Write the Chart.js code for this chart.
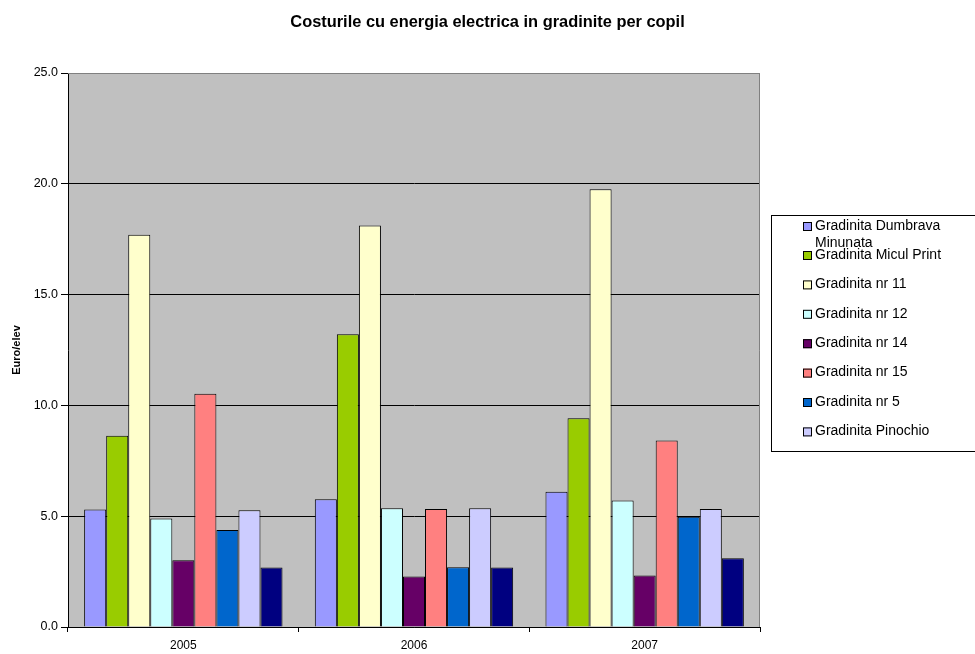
<!DOCTYPE html>
<html>
<head>
<meta charset="utf-8">
<script src="https://cdn.jsdelivr.net/npm/chart.js@4/dist/chart.umd.min.js"></script>
<style>
  body { margin: 0; background: #fff; }
  canvas { display: block; }
</style>
</head>
<body>
<canvas id="graph" width="975" height="654"></canvas>
<script>
const years = ["2005", "2006", "2007"];
const yTicks = [0, 5, 10, 15, 20, 25];
const chartTitle = "Costurile cu energia electrica in gradinite per copil";

const dumbrava = [5.30, 5.76, 6.10];
const miculPrint = [8.63, 13.21, 9.42];
const nr11 = [17.70, 18.12, 19.75];
const nr12 = [4.90, 5.36, 5.71];
const nr14 = [3.01, 2.28, 2.32];
const nr15 = [10.53, 5.33, 8.42];
const nr5 = [4.38, 2.70, 4.97];
const pinochio = [5.27, 5.36, 5.32];
const fara = [2.68, 2.68, 3.10]; // seria fara intrare in legenda

const seriesNames = [
  "Gradinita Dumbrava Minunata",
  "Gradinita Micul Print",
  "Gradinita nr 11",
  "Gradinita nr 12",
  "Gradinita nr 14",
  "Gradinita nr 15",
  "Gradinita nr 5",
  "Gradinita Pinochio",
  ""
];
const seriesData = [dumbrava, miculPrint, nr11, nr12, nr14, nr15, nr5, pinochio, fara];
const seriesColors = ["#9999FF", "#99CC00", "#FFFFCC", "#CCFFFF", "#660066", "#FF8080", "#0066CC", "#CCCCFF", "#000080"];

const FONT = "'Liberation Sans', Arial, sans-serif";

// fundal gri pentru zona graficului + chenar
const plotArea = {
  id: "plotArea",
  beforeDraw(chart) {
    const { ctx, chartArea: a } = chart;
    ctx.save();
    ctx.fillStyle = "#C0C0C0";
    ctx.fillRect(a.left, a.top, a.right - a.left, a.bottom - a.top);
    ctx.restore();
  },
  afterDatasetsDraw(chart) {
    const { ctx, chartArea: a } = chart;
    ctx.save();
    ctx.strokeStyle = "#808080";
    ctx.lineWidth = 1;
    ctx.beginPath();
    ctx.moveTo(a.left, a.top + 0.5);
    ctx.lineTo(a.right - 0.5, a.top + 0.5);
    ctx.lineTo(a.right - 0.5, a.bottom);
    ctx.stroke();
    ctx.restore();
  }
};

// titlul centrat pe toata pagina (nu doar pe zona graficului)
const pageTitle = {
  id: "pageTitle",
  afterDraw(chart) {
    const ctx = chart.ctx;
    ctx.save();
    ctx.font = "bold 16.4px " + FONT;
    ctx.fillStyle = "#000";
    ctx.textAlign = "center";
    ctx.textBaseline = "middle";
    ctx.fillText(chartTitle, chart.width / 2, 22);
    ctx.restore();
  }
};

function wrapText(ctx, text, maxWidth) {
  const words = text.split(" ");
  const lines = [];
  let line = "";
  words.forEach((w) => {
    const test = line ? line + " " + w : w;
    if (ctx.measureText(test).width > maxWidth && line) {
      lines.push(line);
      line = w;
    } else {
      line = test;
    }
  });
  if (line) lines.push(line);
  return lines;
}

// legenda in stil Excel
const legendBox = {
  id: "legendBox",
  afterDraw(chart) {
    const ctx = chart.ctx;
    ctx.save();
    ctx.strokeStyle = "#000";
    ctx.lineWidth = 1;
    ctx.strokeRect(771.5, 215.5, 210, 236);
    ctx.font = "14px " + FONT;
    ctx.textBaseline = "middle";
    ctx.fillStyle = "#000";
    let y = 226;
    chart.data.datasets.forEach((ds, i) => {
      if (!ds.label) return;
      ctx.fillStyle = ds.backgroundColor;
      ctx.fillRect(803, y - 4, 9, 9);
      ctx.strokeStyle = "#000";
      ctx.strokeRect(803.5, y - 3.5, 8, 8);
      ctx.fillStyle = "#000";
      const lines = wrapText(ctx, ds.label, 155);
      lines.forEach((ln, k) => ctx.fillText(ln, 815, y + k * 17));
      y += i === 0 ? 29 : 29.4;
    });
    ctx.restore();
  }
};

const datasets = seriesNames.map((name, i) => ({
  label: name,
  data: seriesData[i],
  backgroundColor: seriesColors[i],
  borderColor: "#000",
  borderWidth: 1,
  categoryPercentage: 0.86,
  barPercentage: 1.0
}));

new Chart(document.getElementById("graph").getContext("2d"), {
  type: "bar",
  data: { labels: years, datasets: datasets },
  plugins: [plotArea, pageTitle, legendBox],
  options: {
    responsive: false,
    animation: false,
    layout: { padding: { left: 0, top: 73, right: 215, bottom: 0 } },
    plugins: {
      legend: { display: false },
      tooltip: { enabled: false },
      title: { display: false }
    },
    scales: {
      x: {
        afterFit(scale) { scale.height = 27; },
        grid: {
          display: true,
          offset: true,
          drawOnChartArea: false,
          color: "#000",
          tickLength: 5
        },
        border: { color: "#000", width: 1 },
        ticks: {
          color: "#000",
          font: { family: FONT, size: 12 },
          padding: 6
        }
      },
      y: {
        min: 0,
        max: 25,
        afterFit(scale) { scale.width = 68; },
        afterBuildTicks(scale) {
          scale.ticks = yTicks.map((v) => ({ value: v }));
        },
        grid: {
          color: (c) => (c.tick && c.tick.value === 25 ? "#808080" : "#000"),
          tickColor: "#000",
          tickLength: 7,
          lineWidth: 1
        },
        border: { color: "#000", width: 1 },
        ticks: {
          color: "#000",
          font: { family: FONT, size: 12.5 },
          padding: 3,
          callback: (v) => Number(v).toFixed(1)
        },
        title: {
          display: true,
          text: "Euro/elev",
          color: "#000",
          font: { family: FONT, size: 11, weight: "bold" },
          padding: { top: 10, bottom: 0 }
        }
      }
    }
  }
});
</script>
</body>
</html>
